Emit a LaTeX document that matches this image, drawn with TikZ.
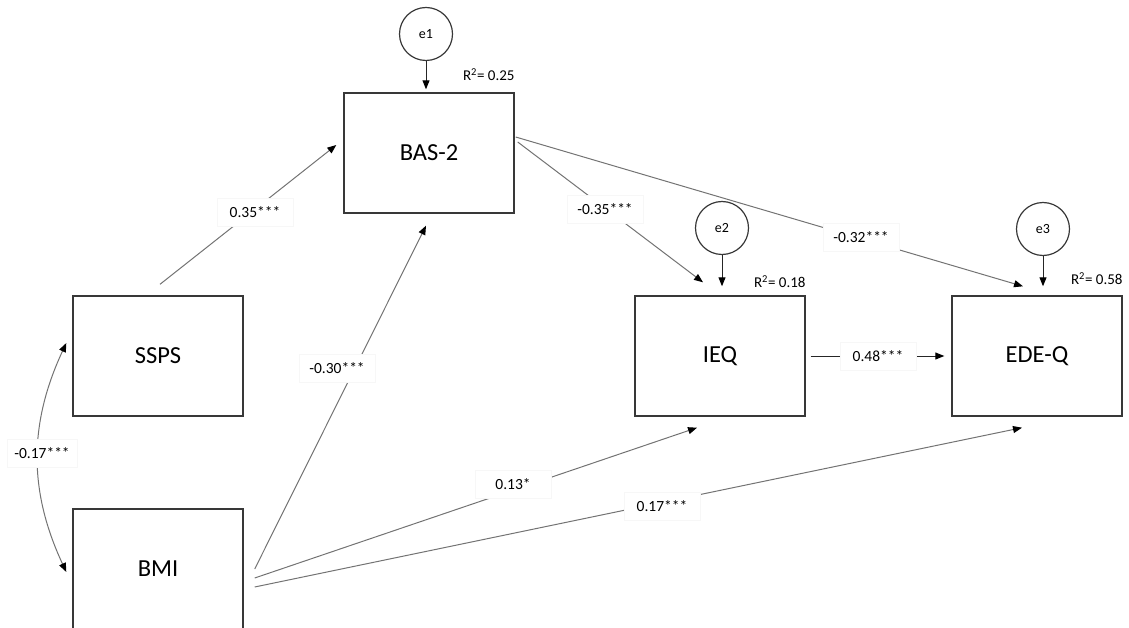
\documentclass[tikz,border=0pt]{standalone}
\usepackage{fontspec}
\setmainfont{Carlito}
\usetikzlibrary{arrows.meta,calc}
\begin{document}
\begin{tikzpicture}[x=1pt,y=1pt,
  box/.style={draw=black!78, line width=1.4pt, minimum width=170pt, minimum height=120pt, inner sep=0pt, font=\fontsize{24.5}{28}\selectfont},
  err/.style={circle, draw=black!78, line width=1.2pt, minimum size=53pt, inner sep=0pt, font=\fontsize{14}{16}\selectfont},
  tip/.tip={Triangle[length=9pt,width=7pt,color=black]},
  conn/.style={draw=black!55, line width=1pt, -tip},
  earr/.style={draw=black!85, line width=1pt, -tip},
  lbl/.style={fill=white, draw=black!3, minimum width=76pt, minimum height=28pt, inner sep=0pt, font=\fontsize{15.5}{18}\selectfont},
  rsq/.style={font=\fontsize{15}{18}\selectfont, inner sep=0pt}
]
\useasboundingbox (0,0) rectangle (1129,-628);

% observed variables
\node[box] (bas) at (429,-153) {BAS-2};
\node[box] (ssps) at (158,-356) {SSPS};
\node[box] (bmi) at (158,-569) {BMI};
\node[box] (ieq) at (720,-356) {IEQ};
\node[box] (ede) at (1037,-356) {EDE-Q};

% error terms
\node[err] (e1) at (426,-34) {e1};
\node[err] (e2) at (722,-228) {e2};
\node[err] (e3) at (1043,-229) {e3};

\draw[earr, shorten >=3pt] (e1) -- (e1 |- bas.north);
\draw[earr, shorten >=9pt] (e2) -- (e2 |- ieq.north);
\draw[earr, shorten >=9pt] (e3) -- (e3 |- ede.north);

% R squared
\node[rsq, anchor=east] (r1) at ($(bas.north east)+(0,18)$) {R\textsuperscript{2}= 0.25};
\node[rsq, anchor=east] (r2) at ($(ieq.north east)+(0,14)$) {R\textsuperscript{2}= 0.18};
\node[rsq, anchor=east] (r3) at ($(ede.north east)+(0,17)$) {R\textsuperscript{2}= 0.58};

% connector end points
\coordinate (sA) at ($(ssps.north)+(2,11)$);
\coordinate (bW) at ($(bas.west)+(-7,8)$);
\coordinate (m1) at ($(bmi.east)+(11,0)$);
\coordinate (m2) at ($(bmi.east)+(11,-9)$);
\coordinate (m3) at ($(bmi.east)+(11,-18)$);
\coordinate (bS) at ($(bas.south)+(-3,-12)$);
\coordinate (iS) at ($(ieq.south)+(-23,-11)$);
\coordinate (dS) at ($(ede.south)+(-15,-11)$);
\coordinate (b1) at ($(bas.east)+(1,16)$);
\coordinate (b2) at ($(bas.east)+(3,11)$);
\coordinate (iN) at ($(ieq.north)+(-17,13)$);
\coordinate (dN) at ($(ede.north)+(-14,9)$);
\coordinate (iE) at ($(ieq.east)+(5,0)$);
\coordinate (dW) at ($(ede.west)+(-7,0)$);
\coordinate (c1) at ($(ssps.west)+(-6,13)$);
\coordinate (c2) at ($(bmi.west)+(-6,-3)$);

% paths
\draw[conn] (sA) -- (bW);
\draw[conn] (m1) -- (bS);
\draw[conn] (m2) -- (iS);
\draw[conn] (m3) -- (dS);
\draw[conn] (b2) -- (iN);
\draw[conn] (b1) -- (dN);
\draw[conn, draw=black!85] (iE) -- (dW);
\draw[conn, tip-tip] (c1) to[out=245,in=115] (c2);

% coefficient labels
\node[lbl] (l1) at (255,-212) {0.35***};
\node[lbl] (l2) at (337,-368) {-0.30***};
\node[lbl] (l3) at (605,-209) {-0.35***};
\node[lbl] (l4) at (861,-237) {-0.32***};
\node[lbl] (l5) at (878,-356) {0.48***};
\node[lbl] (l6) at (513,-484) {0.13*};
\node[lbl] (l7) at (662,-506) {0.17***};
\node[lbl, minimum width=70pt] (l8) at (42,-453) {-0.17***};
\end{tikzpicture}
\end{document}
